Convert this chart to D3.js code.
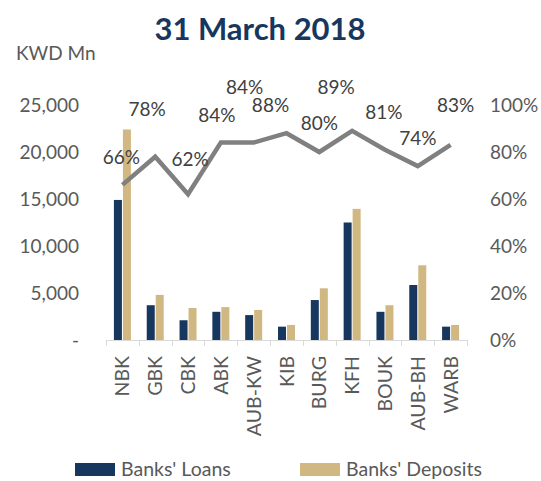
<!DOCTYPE html>
<html><head><meta charset="utf-8">
<script src="https://cdn.jsdelivr.net/npm/d3@7"></script>
<style>body{margin:0;background:#fff}svg{display:block}text{font-family:Lato,"Open Sans",sans-serif}</style>
</head><body><svg id="c" width="541" height="481"></svg>
<script>
const categories = ["NBK","GBK","CBK","ABK","AUB-KW","KIB","BURG","KFH","BOUK","AUB-BH","WARB"];
const loans    = [14900, 3700, 2100, 3000, 2650, 1420, 4250, 12500, 3000, 5850, 1420];
const deposits = [22400, 4800, 3400, 3500, 3200, 1600, 5500, 13950, 3700, 7950, 1600];
const ratio    = [66, 78, 62, 84, 84, 88, 80, 89, 81, 74, 83];
const leftTicks = [0, 5000, 10000, 15000, 20000, 25000];
const rightTicks = [0, 20, 40, 60, 80, 100];
// label offsets (layout): [dx, dy] relative to point
const labelOff = [[-1,-28],[-8,-48],[2,-35],[-4,-28],[-9,-56],[-16,-28],[0,-29],[-16,-44],[-1,-38],[0,-28],[5,-40]];

const svg = d3.select("#c");
const x = d3.scaleBand().domain(categories).range([106, 467]);
const y = d3.scaleLinear().domain([0, 25000]).range([340, 105]);
const y2 = d3.scaleLinear().domain([0, 100]).range([340, 105]);
const txt = "#595959";

svg.append("text").attr("x", 260).attr("y", 40).attr("text-anchor","middle")
  .attr("font-size", 31).attr("font-weight", "bold").attr("fill", "#17375e").text("31 March 2018");
svg.append("text").attr("x", 16).attr("y", 60).attr("font-size", 19).attr("fill", txt).text("KWD Mn");

// left axis
const gl = svg.append("g").attr("transform","translate(79,0)")
  .call(d3.axisLeft(y).tickValues(leftTicks).tickSize(0).tickPadding(0)
    .tickFormat(d => d === 0 ? "-" : d3.format(",")(d)));
gl.select(".domain").remove();
gl.selectAll("text").attr("font-size", 19).attr("fill", txt).attr("font-family","Lato,sans-serif");

// right axis
const gr = svg.append("g").attr("transform","translate(490,0)")
  .call(d3.axisRight(y2).tickValues(rightTicks).tickSize(0).tickPadding(0).tickFormat(d => d + "%"));
gr.select(".domain").remove();
gr.selectAll("text").attr("font-size", 19).attr("fill", txt).attr("font-family","Lato,sans-serif");

// bars
const bw = 8;
svg.append("g").selectAll("rect").data(categories).join("rect")
  .attr("x", d => x(d) + x.bandwidth()/2 - bw - 0.5).attr("width", bw)
  .attr("y", (d,i) => y(loans[i])).attr("height", (d,i) => y(0) - y(loans[i]))
  .attr("fill", "#17375e");
svg.append("g").selectAll("rect").data(categories).join("rect")
  .attr("x", d => x(d) + x.bandwidth()/2 + 0.5).attr("width", bw)
  .attr("y", (d,i) => y(deposits[i])).attr("height", (d,i) => y(0) - y(deposits[i]))
  .attr("fill", "#d1b882");

// x axis
svg.append("line").attr("x1", 106).attr("x2", 467).attr("y1", 340.5).attr("y2", 340.5)
  .attr("stroke", "#d9d9d9").attr("stroke-width", 1);
const bounds = categories.map(d => x(d)).concat([x.range()[1]]);
svg.append("g").selectAll("line").data(bounds).join("line")
  .attr("x1", d => Math.round(d)+0.5).attr("x2", d => Math.round(d)+0.5)
  .attr("y1", 340).attr("y2", 346).attr("stroke", "#d9d9d9");
svg.append("g").selectAll("text").data(categories).join("text")
  .attr("transform", d => `translate(${x(d) + x.bandwidth()/2 + 7},356) rotate(-90)`)
  .attr("text-anchor", "end").attr("font-size", 19.5).attr("fill", txt).text(d => d);

// line
const cx = d => x(d) + x.bandwidth()/2;
svg.append("path").datum(categories)
  .attr("d", d3.line().x(d => cx(d)).y((d,i) => y2(ratio[i])))
  .attr("fill", "none").attr("stroke", "#808080").attr("stroke-width", 4.5).attr("stroke-linejoin","miter");
svg.append("g").selectAll("text").data(categories).join("text")
  .attr("x", (d,i) => cx(d) + labelOff[i][0]).attr("y", (d,i) => y2(ratio[i]) + labelOff[i][1] + 7)
  .attr("text-anchor","middle").attr("font-size", 19).attr("fill", "#404040").text((d,i) => ratio[i] + "%");

// legend
const leg = [["Banks' Loans", "#17375e", 75], ["Banks' Deposits", "#d1b882", 300]];
leg.forEach(([t, c, lx]) => {
  svg.append("rect").attr("x", lx).attr("y", 463).attr("width", 40).attr("height", 13).attr("fill", c);
  svg.append("text").attr("x", lx + 46).attr("y", 476).attr("font-size", 19.5).attr("fill", txt).text(t);
});
</script></body></html>
